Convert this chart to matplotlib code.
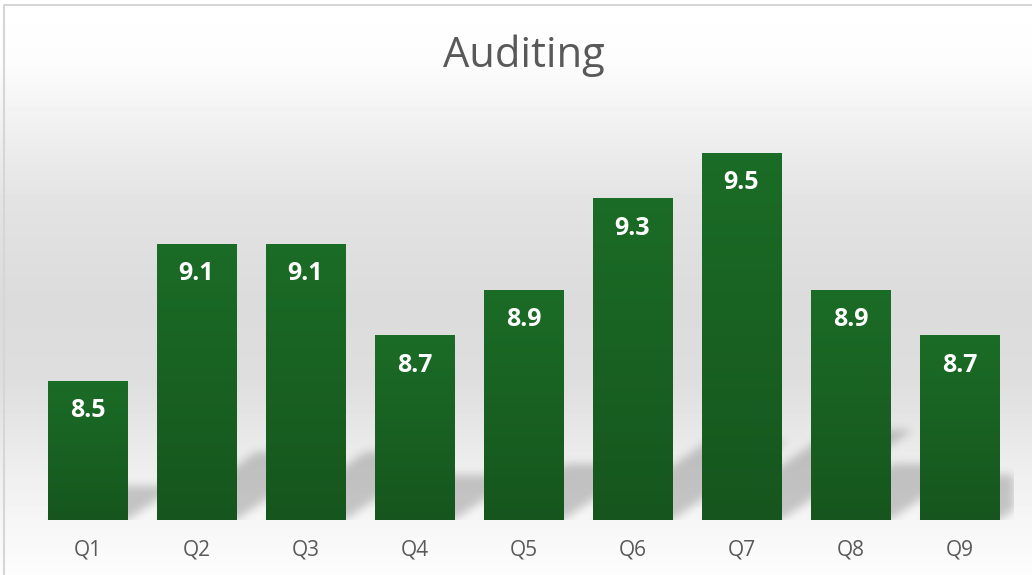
import numpy as np
import matplotlib.pyplot as plt

categories = ['Q1', 'Q2', 'Q3', 'Q4', 'Q5', 'Q6', 'Q7', 'Q8', 'Q9']
values = [8.5, 9.1, 9.1, 8.7, 8.9, 9.3, 9.5, 8.9, 8.7]
title = 'Auditing'

plt.rcParams['font.family'] = ['Open Sans', 'DejaVu Sans']

W, H = 1032, 575
fig = plt.figure(figsize=(W / 100, H / 100), dpi=100)

# grey gradient background, white at top and bottom
bg = fig.add_axes([0, 0, 1, 1], zorder=0)
rows = np.arange(H)
col = np.interp(rows, [0, 60, 200, 300, 380, 470, 520, 575],
                [1.0, 0.99, 0.89, 0.86, 0.87, 0.935, 0.965, 0.99])
bg.imshow(np.repeat(col[:, None], 2, axis=1), cmap='gray', vmin=0, vmax=1,
          aspect='auto', extent=(0, 1, 0, 1))
# chart frame: only the left and top edges are inside the picture
bg.plot([3.5 / W, 3.5 / W, 1], [0, 1 - 4.5 / H, 1 - 4.5 / H],
        color='#d6d6d6', lw=1.5, transform=bg.transAxes)
bg.set_xlim(0, 1)
bg.set_ylim(0, 1)
bg.axis('off')

ymin, ymax = 7.89, 9.7
ax = fig.add_axes([33 / W, 55 / H, 981 / W, 413 / H], zorder=1)
ax.patch.set_alpha(0)

x = np.arange(len(values))
bw = 0.725
bars = ax.bar(x, values, width=bw, color='#18601f', zorder=3)

# soft perspective shadow lying behind each bar
nx, ny = 981, 413
gx = -0.5 + (np.arange(nx) + 0.5) / nx * 9
gy = ymin + (np.arange(ny) + 0.5) / ny * (ymax - ymin)
XX, YY = np.meshgrid(gx, gy)
mask = np.zeros_like(XX)
for xi, v in zip(x, values):
    h = v - ymin
    a, b = 0.75 * h, 0.245 * h
    u = (YY - ymin) / b
    xs = XX - u * a
    inside = (u >= 0) & (u <= 1) & (xs >= xi - bw / 2) & (xs <= xi + bw / 2)
    mask = np.maximum(mask, inside.astype(float))
k = np.exp(-0.5 * (np.arange(-14, 15) / 4.5) ** 2)
k /= k.sum()
pad = np.pad(mask, 14, mode='constant')
pad = np.apply_along_axis(lambda r: np.convolve(r, k, mode='same'), 1, pad)
pad = np.apply_along_axis(lambda c: np.convolve(c, k, mode='same'), 0, pad)
mask = pad[14:-14, 14:-14]
shadow = np.zeros((ny, nx, 4))
shadow[..., 3] = 0.2 * mask
ax.imshow(shadow, origin='lower', extent=(-0.5, 8.5, ymin, ymax),
          aspect='auto', zorder=2)

# vertical green gradient inside each bar
top_c = np.array([27, 108, 38]) / 255
bot_c = np.array([22, 86, 30]) / 255
t = np.linspace(0, 1, 100)[:, None]
grad = (bot_c + (top_c - bot_c) * t)[:, None, :]
for bar, v in zip(bars, values):
    im = ax.imshow(grad, origin='lower', aspect='auto', zorder=3.5,
                   extent=(bar.get_x(), bar.get_x() + bar.get_width(), ymin, v))
    im.set_clip_path(bar)

for xi, v in zip(x, values):
    ax.annotate(f'{v:.1f}', (xi, v), xytext=(0, -30), textcoords='offset pixels',
                ha='center', va='center', color='white', fontsize=18,
                fontweight='bold', zorder=5)

ax.set_xlim(-0.5, 8.5)
ax.set_ylim(ymin, ymax)
ax.set_xticks(x, categories)
ax.set_yticks([])
ax.tick_params(axis='x', length=0, pad=14, labelsize=15, labelcolor='#595959')
for s in ax.spines.values():
    s.set_visible(False)

fig.text(524 / W, 1 - 56 / H, title, ha='center', va='center', fontsize=30,
         color='#595959')

fig.savefig('out.png', dpi=100)
